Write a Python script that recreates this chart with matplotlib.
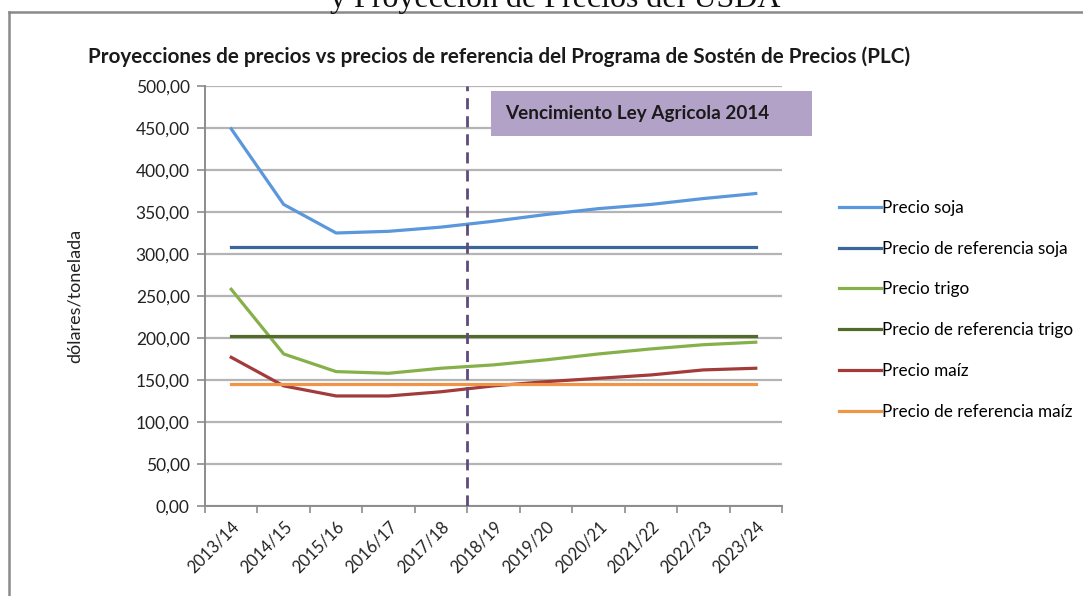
import numpy as np
import matplotlib.pyplot as plt
from matplotlib.patches import Rectangle

# Campañas
campanas = ["2013/14", "2014/15", "2015/16", "2016/17", "2017/18", "2018/19",
            "2019/20", "2020/21", "2021/22", "2022/23", "2023/24"]

# Precios proyectados (dólares/tonelada)
precio_soja = [449, 359, 325, 327, 332, 339, 347, 354, 359, 366, 372]
precio_trigo = [258, 181, 160, 158, 164, 168, 174, 181, 187, 192, 195]
precio_maiz = [177, 143, 131, 131, 136, 143, 148, 152, 156, 162, 164]

# Precios de referencia PLC
ref_soja = [308.65] * 11
ref_trigo = [202.09] * 11
ref_maiz = [145.66] * 11

series = [
    ("Precio soja", precio_soja, "#5b97dc"),
    ("Precio de referencia soja", ref_soja, "#3b669a"),
    ("Precio trigo", precio_trigo, "#86b04a"),
    ("Precio de referencia trigo", ref_trigo, "#526a2c"),
    ("Precio maíz", precio_maiz, "#a23b3a"),
    ("Precio de referencia maíz", ref_maiz, "#ef9548"),
]

plt.rcParams['font.family'] = ['Lato', 'DejaVu Sans']

fig = plt.figure(figsize=(10.83, 5.96), dpi=100)
ax = fig.add_axes([205 / 1083, 1 - 506 / 596, 577 / 1083, 420 / 596])

x = np.arange(len(campanas))
for nombre, valores, color in series:
    ax.plot(x, valores, color=color, lw=2.3, label=nombre, zorder=3)

# Línea de vencimiento de la Ley Agrícola
ax.axvline(4.5, color="#5f4a7c", lw=2, ls=(0, (4, 2.5)), zorder=4)

ax.set_xlim(-0.5, len(campanas) - 0.5)
ax.set_ylim(0, 500)
ax.set_yticks(np.arange(0, 501, 50))
ax.set_yticklabels([f"{v:.2f}".replace(".", ",") for v in np.arange(0, 501, 50)])
ax.yaxis.grid(True, color="#b4b4b4", lw=1.6, zorder=1)
ax.set_axisbelow(True)

ax.set_xticks(np.arange(-0.5, len(campanas), 1))
ax.set_xticklabels([])
ax.set_xticks(x, minor=True)
ax.set_xticklabels(campanas, minor=True, rotation=45, ha="right",
                   rotation_mode="anchor", fontsize=12, color="#222222")
ax.tick_params(axis="x", which="major", length=5, color="#8c8c8c", width=1.2)
ax.tick_params(axis="x", which="minor", length=0, pad=9)
ax.tick_params(axis="y", length=6, color="#8c8c8c", width=1.2,
               labelsize=12.5, labelcolor="#222222", pad=5)

for lado in ["top", "right"]:
    ax.spines[lado].set_visible(False)
for lado in ["left", "bottom"]:
    ax.spines[lado].set_color("#8c8c8c")
    ax.spines[lado].set_linewidth(1.4)

ax.set_ylabel("dólares/tonelada", fontsize=13, color="#222222", labelpad=38)

# Leyenda
ax.legend(loc="upper left", bbox_to_anchor=(1.087, 0.745), frameon=False,
          fontsize=12.3, handlelength=2.45, handletextpad=0.05,
          labelspacing=1.45, borderaxespad=0)

# Título
fig.text(88 / 1083, 1 - 57 / 596, "Proyecciones de precios vs precios de referencia "
         "del Programa de Sostén de Precios (PLC)", fontsize=14.9,
         fontweight="bold", va="center", ha="left", color="#1a1a1a")

# Recuadro de vencimiento
fig.patches.append(Rectangle((491 / 1083, 1 - 136 / 596), 321 / 1083, 45 / 596,
                             transform=fig.transFigure, facecolor="#b3a2c8",
                             edgecolor="none", zorder=5))
fig.text(505 / 1083, 1 - 114 / 596, "Vencimiento Ley Agricola 2014", fontsize=13.6,
         fontweight="bold", va="center", ha="left", color="#1a1a1a", zorder=6)

# Marco del documento y texto cortado arriba
fig.add_artist(plt.Line2D([9 / 1083, 9 / 1083], [0, 1 - 12 / 596],
                          transform=fig.transFigure, color="#8a8a8a", lw=1.8))
fig.add_artist(plt.Line2D([9 / 1083, 1], [1 - 12 / 596, 1 - 12 / 596],
                          transform=fig.transFigure, color="#8a8a8a", lw=1.8))
fig.text(555 / 1083, 1 - 7 / 596, "y Proyección de Precios del USDA",
         fontsize=23, family="Liberation Serif", ha="center", va="baseline",
         color="#111111")

fig.savefig("out.png", dpi=100)
